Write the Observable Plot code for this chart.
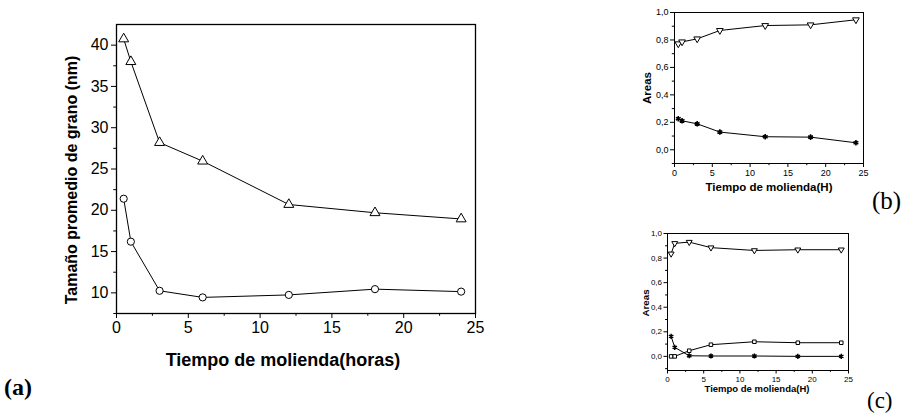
<!DOCTYPE html>
<html>
<head>
<meta charset="utf-8">
<script src="https://cdn.jsdelivr.net/npm/d3@7"></script>
<script src="https://cdn.jsdelivr.net/npm/@observablehq/plot@0.6"></script>
<style>
  html, body { margin: 0; padding: 0; background: #fff; }
  #root { position: relative; width: 912px; height: 413px; overflow: hidden; background: #fff; font-family: "Liberation Sans", Arial, sans-serif; color: #000; }
  .pnl { position: absolute; }
  .pnl svg text { font-family: "Liberation Sans", Arial, sans-serif; }
  .lbl { position: absolute; white-space: nowrap; transform: translate(-50%, -50%); font-weight: bold; font-family: "Liberation Sans", Arial, sans-serif; }
  .rot { transform: translate(-50%, -50%) rotate(-90deg); }
  .tag { position: absolute; white-space: nowrap; font-family: "Liberation Serif", "Times New Roman", serif; transform: translate(0, -50%); }
</style>
</head>
<body>
<div id="root"></div>
<script>
// ---- data ----
const hours = [0.5, 1, 3, 6, 12, 18, 24];

// panel (a): grain size (nm)
const grainTriangle = [40.75, 38.0, 28.2, 25.95, 20.7, 19.7, 18.95];
const grainCircle   = [21.4, 16.2, 10.25, 9.45, 9.75, 10.45, 10.15];

// panel (b): areas
const areasBTriangle = [0.772, 0.786, 0.808, 0.869, 0.905, 0.91, 0.947];
const areasBStar     = [0.226, 0.211, 0.189, 0.129, 0.095, 0.092, 0.051];

// panel (c): areas
const areasCTriangle = [0.835, 0.92, 0.93, 0.885, 0.862, 0.868, 0.868];
const areasCSquare   = [0.0, 0.0, 0.046, 0.095, 0.119, 0.111, 0.111];
const areasCStar     = [0.163, 0.073, 0.005, 0.003, 0.003, 0.0, 0.0];

// ticks
const xMajor = [0, 5, 10, 15, 20, 25];
const xMinor = [2.5, 7.5, 12.5, 17.5, 22.5];
const grainMajor = [10, 15, 20, 25, 30, 35, 40];
const grainMinor = [7.5, 12.5, 17.5, 22.5, 27.5, 32.5, 37.5];
const areaMajor = [0, 0.2, 0.4, 0.6, 0.8, 1.0];
const areaMinor = [-0.1, 0.1, 0.3, 0.5, 0.7, 0.9];

const rows = (vals) => hours.map((h, i) => ({h, v: vals[i]}));
const comma = (d) => d3.format(".1f")(d).replace(".", ",");

function series(vals, symbol, r, opts = {}) {
  const data = rows(vals);
  return [
    Plot.line(data, {x: "h", y: "v", stroke: "black", strokeWidth: 1}),
    Plot.dot(data, {x: "h", y: "v", symbol, r, stroke: "black", fill: symbol === "asterisk" ? "black" : "white", strokeWidth: opts.sw ?? 1, rotate: opts.rotate ?? 0})
  ];
}

function panel(cfg) {
  return Plot.plot({
    width: cfg.width, height: cfg.height,
    marginLeft: cfg.ml, marginRight: cfg.mr, marginTop: cfg.mt, marginBottom: cfg.mb,
    x: {type: "linear", domain: [0, 25]},
    y: {type: "linear", domain: cfg.yDomain},
    style: {fontFamily: "Liberation Sans, Arial, sans-serif", color: "black", background: "transparent", overflow: "visible"},
    marks: [
      Plot.axisX(xMajor, {tickSize: cfg.tick, tickPadding: cfg.pad, fontSize: cfg.fs, label: null, tickFormat: (d) => String(d), stroke: "black"}),
      Plot.axisX(xMinor, {tickSize: cfg.tick * 0.55, text: null, label: null, stroke: "black"}),
      Plot.axisY(cfg.yMajor, {tickSize: cfg.tick, tickPadding: cfg.pad, fontSize: cfg.fs, label: null, tickFormat: cfg.yFormat, stroke: "black"}),
      Plot.axisY(cfg.yMinor, {tickSize: cfg.tick * 0.55, text: null, label: null, stroke: "black"}),
      ...cfg.marks,
      Plot.frame({stroke: "black", strokeWidth: cfg.frameW ?? 1})
    ]
  });
}

const root = document.getElementById("root");
function place(el, left, top) {
  const d = document.createElement("div");
  d.className = "pnl";
  d.style.left = left + "px";
  d.style.top = top + "px";
  d.appendChild(el);
  root.appendChild(d);
}
function label(text, x, y, size, rotated) {
  const d = document.createElement("div");
  d.className = "lbl" + (rotated ? " rot" : "");
  d.style.left = x + "px";
  d.style.top = y + "px";
  d.style.fontSize = size + "px";
  d.textContent = text;
  root.appendChild(d);
}
function tag(text, x, y, size, bold) {
  const d = document.createElement("div");
  d.className = "tag";
  d.style.left = x + "px";
  d.style.top = y + "px";
  d.style.fontSize = size + "px";
  d.style.fontWeight = bold ? "bold" : "normal";
  d.textContent = text;
  root.appendChild(d);
}

// panel (a)
place(panel({
  width: 500, height: 345, ml: 116, mr: 25, mt: 24, mb: 32,
  yDomain: [7.5, 42.5], yMajor: grainMajor, yMinor: grainMinor, yFormat: (d) => String(d),
  tick: 5, pad: 3, fs: 16, frameW: 1.3,
  marks: [
    ...series(grainTriangle, "triangle", 3.7),
    ...series(grainCircle, "circle", 3.6)
  ]
}), 0, 0);
label("Tiempo de molienda(horas)", 283, 360, 18, false);
label("Tamaño promedio de grano (nm)", 72, 180, 16, true);
tag("(a)", 4, 387, 24, true);

// panel (b)
place(panel({
  width: 250, height: 180, ml: 44, mr: 17, mt: 12, mb: 17,
  yDomain: [-0.1, 1.0], yMajor: areaMajor, yMinor: areaMinor, yFormat: comma,
  tick: 4, pad: 2, fs: 9,
  marks: [
    ...series(areasBTriangle, "triangle", 2.5, {rotate: 180}),
    ...series(areasBStar, "asterisk", 2.6, {sw: 1.6})
  ]
}), 630, 0);
label("Tiempo de molienda(H)", 769, 187, 11.5, false);
label("Areas", 647, 88, 11.5, true);
tag("(b)", 872, 201, 25, false);

// panel (c)
place(panel({
  width: 230, height: 170, ml: 37, mr: 12, mt: 13, mb: 20,
  yDomain: [-0.115, 1.0], yMajor: areaMajor, yMinor: areaMinor, yFormat: comma,
  tick: 3.5, pad: 2, fs: 8,
  marks: [
    ...series(areasCTriangle, "triangle", 2.2, {rotate: 180}),
    ...series(areasCSquare, "square", 2.0),
    ...series(areasCStar, "asterisk", 2.4, {sw: 1.5})
  ]
}), 630, 220);
label("Tiempo de molienda(H)", 757, 388, 9.5, false);
label("Areas", 645, 303, 9.8, true);
tag("(c)", 867, 401, 23, false);
</script>
</body>
</html>
